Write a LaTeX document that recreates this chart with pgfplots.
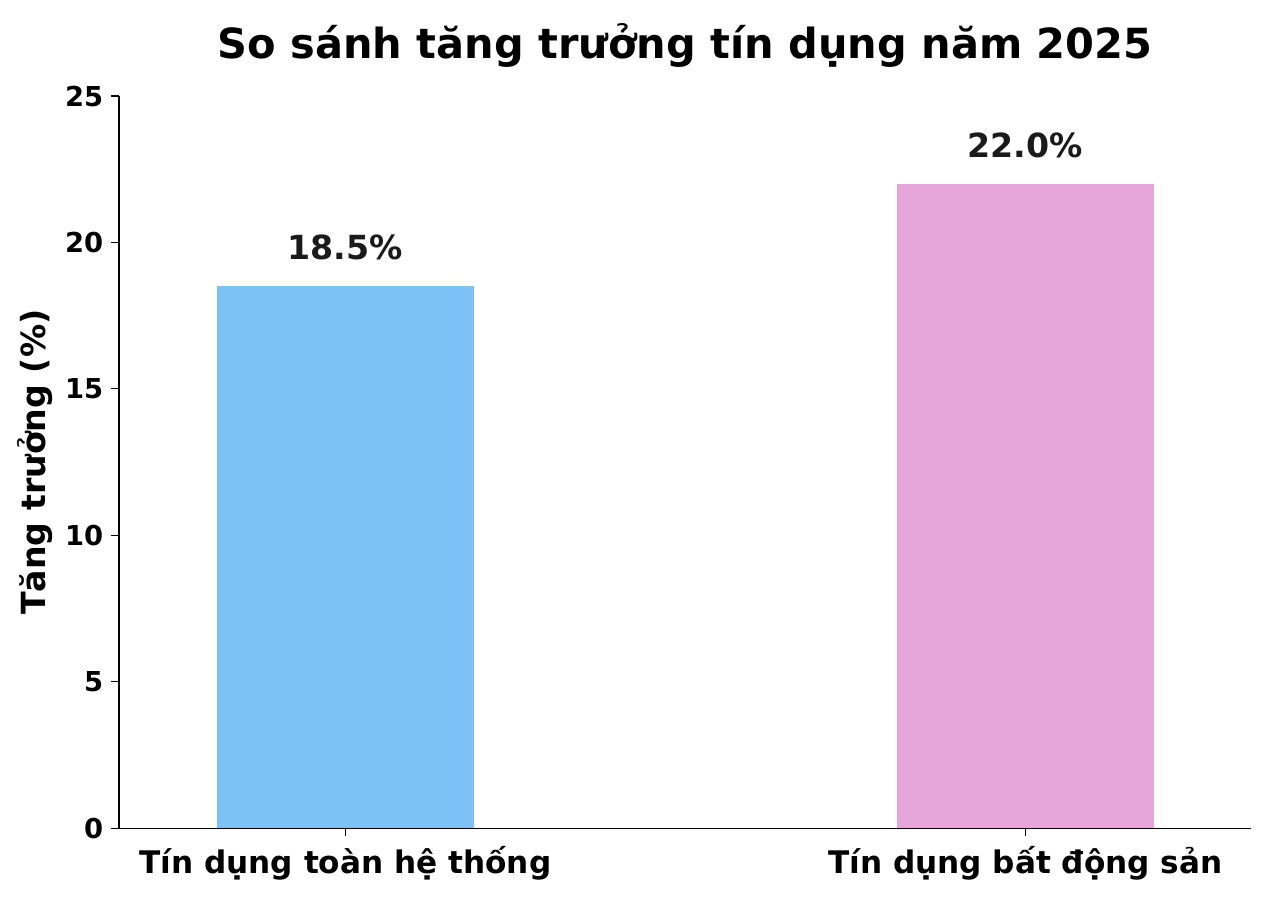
\documentclass[border=0pt]{standalone}
\usepackage{fontspec}
\setmainfont{DejaVu Sans}
\usepackage{pgfplots}
\pgfplotsset{compat=1.18}
\definecolor{barblue}{HTML}{7CC2F6}
\definecolor{barpink}{HTML}{E6A6DA}
\definecolor{lbl}{HTML}{1A1A1A}
\begin{document}
\begin{tikzpicture}
\path[use as bounding box] (-57.1bp,-34.6bp) rectangle (554.9bp,397.5bp);
\begin{axis}[
  at={(0,0)}, anchor=south west,
  scale only axis, width=543.4bp, height=351.4bp,
  xmin=-0.333, xmax=1.332, ymin=0, ymax=25,
  axis x line*=bottom, axis y line*=left,
  axis line style={-, line width=0.6pt},
  tick align=outside, major tick length=4bp,
  tick style={line width=0.6pt, black},
  xtick={0,1}, xticklabels={Tín dụng toàn hệ thống, Tín dụng bất động sản},
  ytick={0,5,10,15,20,25},
  /pgf/number format/assume math mode=true,
  ticklabel style={font=\bfseries\fontsize{13.2}{15}\selectfont},
  xticklabel style={font=\bfseries\fontsize{15}{17}\selectfont, yshift=-1bp},
  ylabel={Tăng trưởng (\%)},
  ylabel style={font=\bfseries\fontsize{16}{18}\selectfont, yshift=-1bp},
  title={So sánh tăng trưởng tín dụng năm 2025},
  title style={font=\bfseries\fontsize{20}{24}\selectfont, yshift=4bp},
  ybar, bar width=0.378, bar shift=0pt,
  nodes near coords={\pgfmathprintnumber[fixed,fixed zerofill,precision=1]{\pgfplotspointmeta}\%},
  every node near coord/.append style={font=\bfseries\fontsize{16}{18}\selectfont, text=lbl, yshift=9bp},
]
\addplot[fill=barblue, draw=none] coordinates {(0,18.5)};
\addplot[fill=barpink, draw=none] coordinates {(1,22.0)};
\end{axis}
\end{tikzpicture}
\end{document}
